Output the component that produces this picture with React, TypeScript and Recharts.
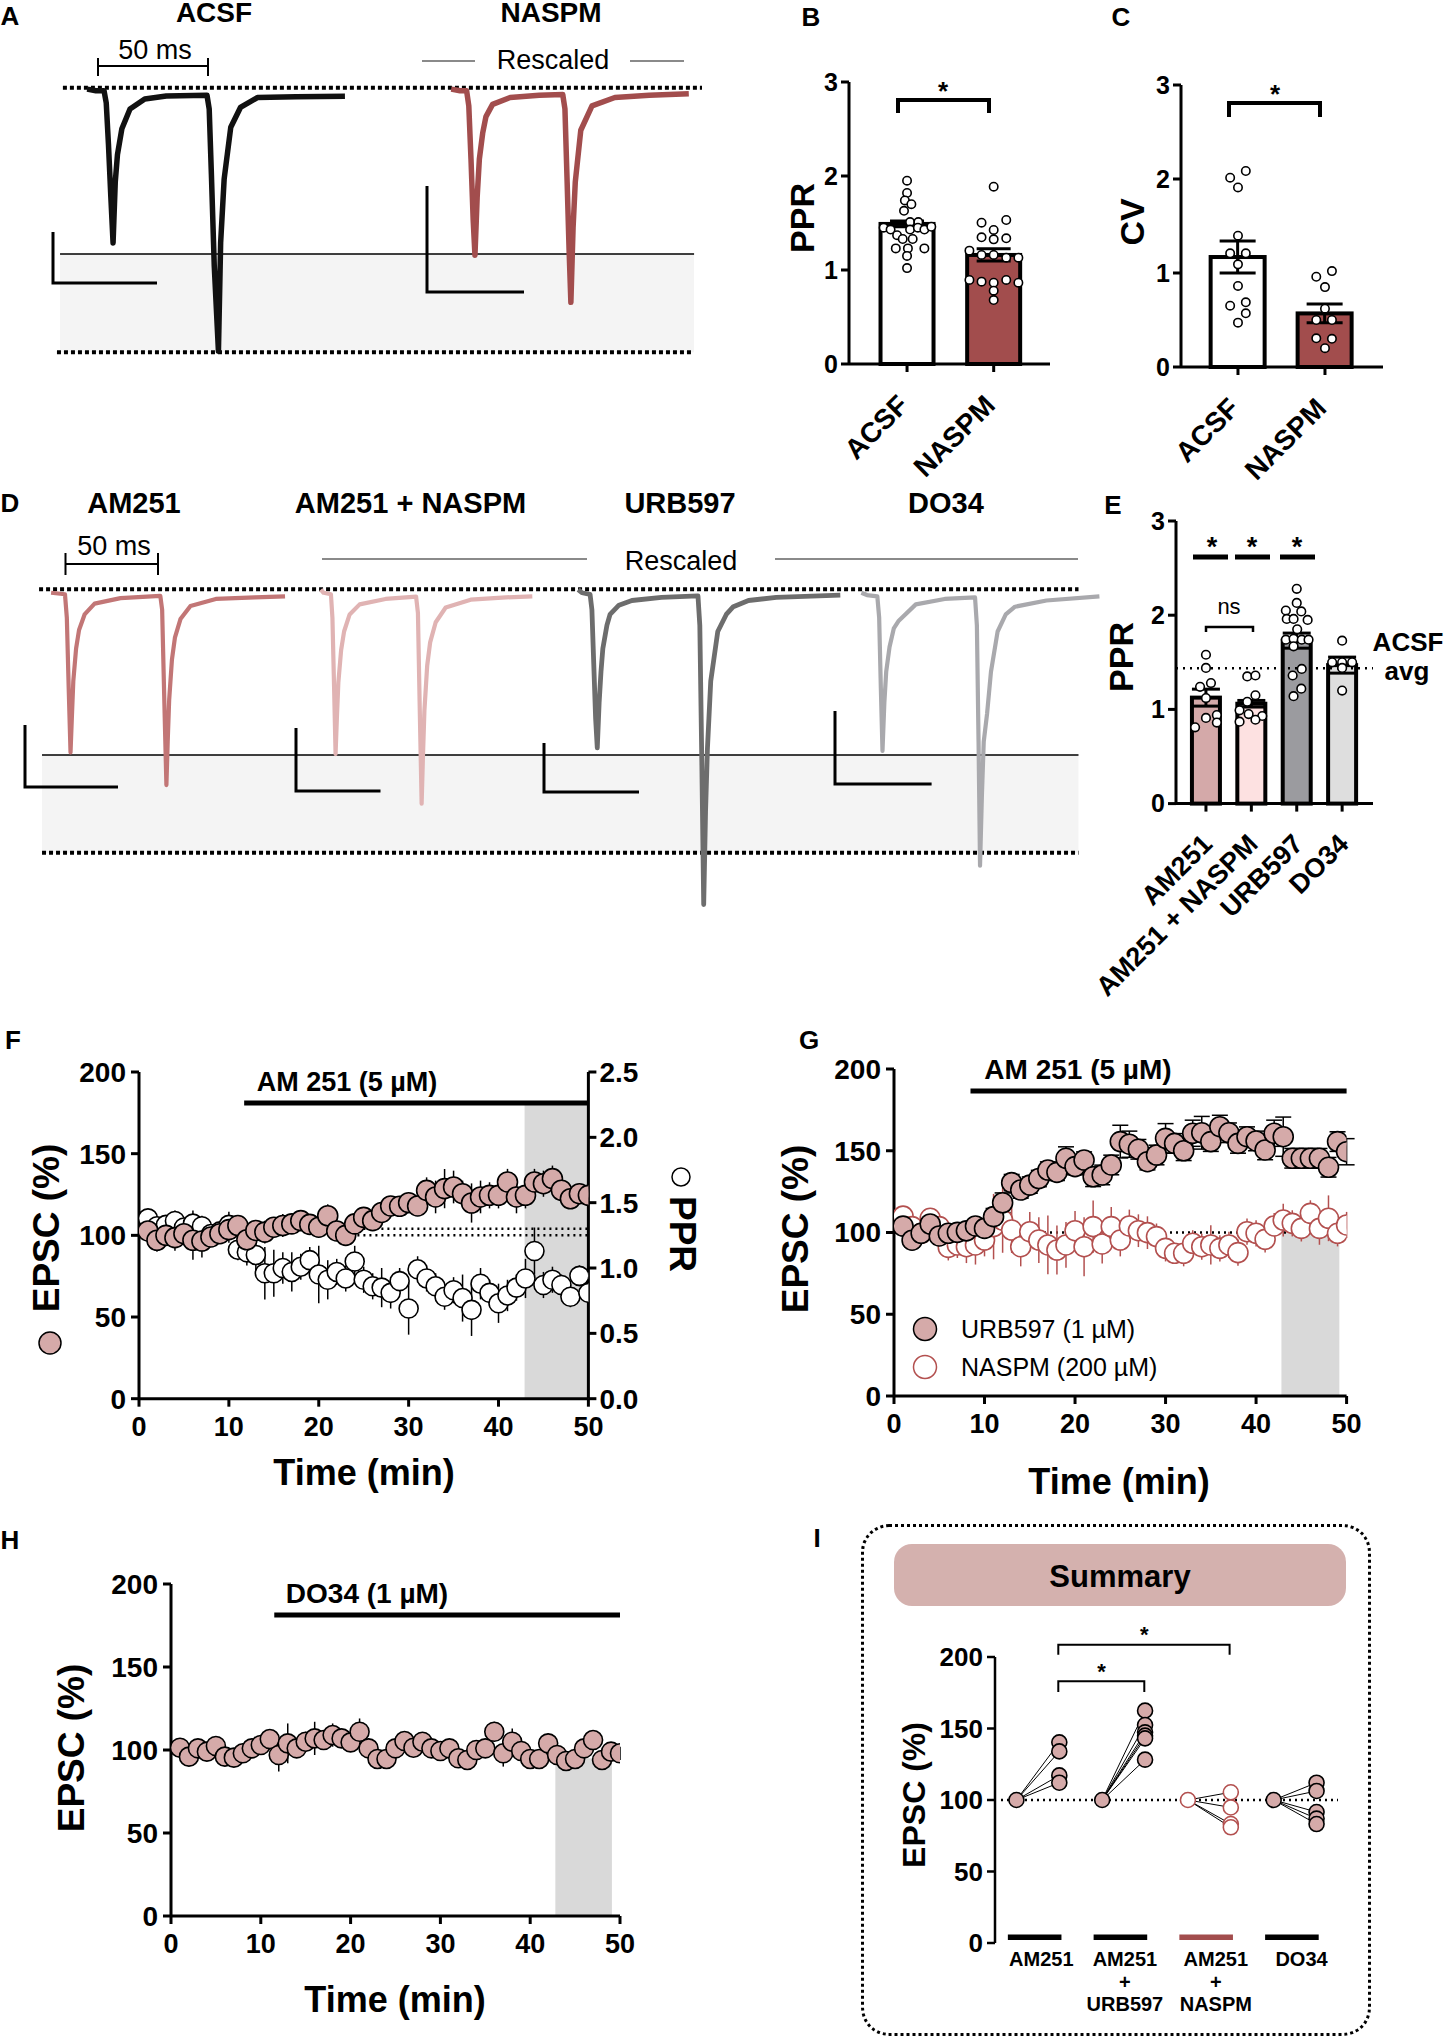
import React from 'react';
import {
  LineChart,
  Line,
  ComposedChart,
  Bar,
  Cell,
  ErrorBar,
  Scatter,
  XAxis,
  YAxis,
  ReferenceLine,
  ReferenceArea,
} from 'recharts';

const FONT = '"Liberation Sans", Arial, Helvetica, sans-serif';
const PINK = '#d5aaa9';
const NASPM_RED = '#a24d4d';
const OPEN_RED = '#b3504f';
const SHADE = '#d9d9d9';
const BAND = '#f4f4f4';

type Pt = [number, number];

// ---- A: example traces [ms from trace start, current / ACSF EPSC1] ----
const ACSF_TRACE: Pt[] = [
  [0, 0.01], [4, 0], [7.7, 0], [8.7, -0.08], [9.7, -0.35], [10.8, -0.7], [11.8, -1.0],
  [12.8, -0.6], [13.8, -0.42], [15.8, -0.25], [19.5, -0.12], [26.2, -0.055], [36, -0.035],
  [54.5, -0.03], [55.5, -0.12], [56.5, -0.55], [57.8, -1.15], [59.7, -1.71], [60.7, -1.0],
  [62.3, -0.58], [65.3, -0.24], [69.7, -0.11], [77.4, -0.045], [95, -0.04], [117.2, -0.037],
];
const NASPM_TRACE: Pt[] = [
  [0, 0.01], [4, 0], [7, 0], [8, -0.1], [9, -0.45], [10, -0.85], [10.8, -1.08], [11.8, -0.7],
  [12.8, -0.45], [14.3, -0.28], [15.8, -0.17], [18.8, -0.09], [26.8, -0.045], [40, -0.03],
  [50.7, -0.025], [51.7, -0.12], [52.7, -0.6], [53.6, -1.05], [54.4, -1.39], [55.4, -0.9],
  [56.4, -0.6], [58.9, -0.26], [64, -0.1], [74.4, -0.045], [90, -0.03], [108, -0.02],
];

// ---- D: example traces ----
const AM251_TRACE: Pt[] = [
  [0, 0.01], [7.5, 0], [8.5, -0.15], [9.5, -0.6], [10.5, -1.02], [11.2, -0.8], [12, -0.56],
  [13.5, -0.35], [15.1, -0.23], [18.1, -0.13], [23.5, -0.06], [37.5, -0.025], [59, -0.01],
  [60, -0.1], [61.2, -0.7], [62.3, -1.23], [63, -0.95], [63.8, -0.68], [65.3, -0.42],
  [66.9, -0.28], [69.9, -0.16], [75.3, -0.075], [89, -0.03], [110, -0.02], [126.4, -0.013],
];
const AM251_NASPM_TRACE: Pt[] = [
  [0, 0.03], [1.5, 0.01], [5.5, 0], [6.3, -0.15], [7.2, -0.6], [8, -1.03], [8.7, -0.8],
  [9.5, -0.57], [11, -0.36], [12.6, -0.24], [15.6, -0.13], [21, -0.065], [35, -0.03],
  [51.5, -0.015], [52.5, -0.12], [53.5, -0.75], [54.5, -1.35], [55.2, -1.05], [56, -0.75],
  [57.5, -0.46], [59.1, -0.31], [62.1, -0.18], [67.5, -0.085], [81, -0.035], [100, -0.02],
  [114.3, -0.013],
];
const URB597_TRACE: Pt[] = [
  [0, 0.03], [2, 0.01], [6.4, 0], [7.4, -0.1], [8.4, -0.45], [9.4, -0.8], [10.3, -0.99],
  [11.3, -0.7], [12.3, -0.5], [13.3, -0.35], [15.5, -0.2], [17.2, -0.13], [22, -0.07],
  [29, -0.04], [45, -0.02], [64.7, -0.01], [65.7, -0.2], [66.8, -1.1], [67.8, -2.0],
  [68.8, -1.4], [69.8, -1.0], [71.6, -0.56], [75.4, -0.24], [80, -0.13], [83.8, -0.08],
  [92, -0.04], [107, -0.02], [141.6, -0.005],
];
const DO34_TRACE: Pt[] = [
  [0, 0.01], [3, -0.005], [8.6, -0.013], [9.6, -0.15], [10.5, -0.6], [11.4, -1.01],
  [12.4, -0.7], [13.4, -0.5], [15.2, -0.34], [17.5, -0.22], [20.2, -0.17], [29.4, -0.065],
  [45, -0.03], [61.4, -0.02], [62.4, -0.2], [63.3, -0.95], [64.1, -1.75], [65.1, -1.3],
  [66.1, -0.95], [67.9, -0.77], [70, -0.5], [73.6, -0.24], [78, -0.13], [83, -0.08],
  [100, -0.04], [128.6, -0.013],
];

// ---- B: PPR ----
const B_NAMES = ['ACSF', 'NASPM'];
const B_MEAN = [1.49, 1.16];
const B_SEM = [0.03, 0.065];
const B_ACSF_PTS: Pt[] = [
  [0, 1.95], [0, 1.82], [-0.025, 1.74], [0.05, 1.7], [-0.035, 1.63], [0.035, 1.51], [0.13, 1.51],
  [-0.27, 1.45], [-0.19, 1.43], [-0.115, 1.37], [0.035, 1.43], [0.125, 1.45], [0.2, 1.43],
  [0.28, 1.46], [-0.05, 1.33], [0.065, 1.33], [-0.13, 1.23], [0.01, 1.23], [0.2, 1.23],
  [0, 1.15], [0, 1.02],
];
const B_NASPM_PTS: Pt[] = [
  [0, 1.886], [-0.14, 1.503], [0.145, 1.532], [0, 1.426], [-0.14, 1.348], [0, 1.326],
  [0.145, 1.337], [-0.28, 1.206], [-0.14, 1.16], [0, 1.16], [0.145, 1.131], [0.285, 1.131],
  [-0.28, 0.894], [-0.14, 0.876], [0, 0.865], [0.145, 0.894], [0.285, 0.865], [0, 0.78], [0, 0.68],
];

// ---- C: CV ----
const C_MEAN = [1.17, 0.57];
const C_SEM = [0.17, 0.1];
const C_ACSF_PTS: Pt[] = [
  [-0.09, 2.014], [0.09, 2.085], [0, 1.91], [0, 1.397], [-0.09, 1.209], [0.09, 1.209],
  [0, 1.092], [0, 0.862], [-0.09, 0.652], [0.09, 0.688], [0.09, 0.571], [0, 0.472],
];
const C_NASPM_PTS: Pt[] = [
  [-0.1, 0.96], [0.08, 1.02], [0, 0.85], [0, 0.62], [-0.1, 0.5], [0.08, 0.5],
  [-0.1, 0.305], [0.08, 0.3], [0, 0.2],
];

// ---- E: PPR per condition ----
const E_NAMES = ['AM251', 'AM251 + NASPM', 'URB597', 'DO34'];
const E_MEAN = [1.125, 1.06, 1.73, 1.47];
const E_SEM = [0.09, 0.035, 0.08, 0.085];
const E_FILL = ['#d4a9a9', '#fde1e1', '#9b9b9f', '#dedede'];
const E_ACSF_AVG = 1.436;
const E_AM251_PTS: Pt[] = [
  [0, 1.58], [0, 1.44], [-0.13, 1.24], [0.11, 1.28], [0, 1.12], [0.24, 0.94], [0, 0.91],
  [0.24, 0.86], [-0.24, 0.81],
];
const E_NASPM_PTS: Pt[] = [
  [-0.09, 1.35], [0.09, 1.36], [0.09, 1.15], [-0.09, 1.08], [-0.26, 0.99], [-0.06, 0.95],
  [0.24, 0.93], [-0.26, 0.87], [0.09, 0.89],
];
const E_URB_PTS: Pt[] = [
  [0, 2.28], [0, 2.13], [-0.24, 2.05], [0.1, 2.04], [-0.22, 1.96], [-0.07, 1.96], [0.24, 1.95],
  [0.01, 1.85], [-0.24, 1.74], [-0.07, 1.75], [0.11, 1.74], [0.26, 1.74], [-0.07, 1.67],
  [0.11, 1.43], [-0.09, 1.36], [0.1, 1.22], [-0.07, 1.14],
];
const E_DO34_PTS: Pt[] = [[0, 1.73], [-0.22, 1.5], [0, 1.5], [0.22, 1.5], [0, 1.44], [0, 1.2]];

// ---- F: AM251 time course (1 point / min) ----
const F_EPSC = [
  102.7, 97, 100, 98.6, 101, 97, 96.5, 99, 101, 103.5,
  106, 97.3, 103, 102, 105, 106, 107, 109, 106.7, 105,
  112, 102.7, 100, 107, 111, 109, 114, 118, 117.8, 120,
  118, 127.5, 123.5, 128.6, 129.6, 125.5, 119.8, 123.5, 124.5, 124.5,
  132.7, 123.5, 124.5, 132.7, 131.6, 134.7, 127.6, 122.4, 125.5, 124.5,
];
const F_EPSC_ERR = [
  6, 7, 6, 8, 7, 12, 10, 5, 5, 8, 6, 6, 6, 7, 6, 7, 6, 6, 6, 6,
  7, 6, 6, 6, 5, 5, 5, 5, 5, 5, 6, 8, 10, 12, 10, 8, 12, 10, 8, 8,
  8, 10, 8, 8, 8, 8, 6, 6, 6, 6,
];
const F_PPR = [
  1.38, 1.32, 1.33, 1.36, 1.31, 1.34, 1.32, 1.26, 1.28, 1.33,
  1.14, 1.12, 1.1, 0.96, 0.96, 1.0, 0.97, 1.01, 1.06, 0.95,
  0.91, 0.97, 0.92, 1.05, 0.91, 0.86, 0.85, 0.81, 0.9, 0.69,
  0.99, 0.92, 0.86, 0.78, 0.83, 0.77, 0.68, 0.88, 0.81, 0.73,
  0.79, 0.85, 0.92, 1.13, 0.87, 0.91, 0.87, 0.78, 0.94, 0.81,
];
const F_PPR_ERR = [
  0.05, 0.05, 0.06, 0.08, 0.05, 0.1, 0.08, 0.05, 0.05, 0.1,
  0.08, 0.1, 0.15, 0.2, 0.18, 0.12, 0.15, 0.1, 0.1, 0.22,
  0.15, 0.1, 0.1, 0.12, 0.1, 0.1, 0.15, 0.12, 0.1, 0.2,
  0.1, 0.1, 0.1, 0.1, 0.1, 0.18, 0.2, 0.12, 0.1, 0.15,
  0.12, 0.1, 0.15, 0.18, 0.1, 0.1, 0.08, 0.08, 0.08, 0.08,
];

// ---- G: URB597 / NASPM time course ----
const G_URB = [
  103.9, 95.3, 99.5, 105.2, 97.9, 99.5, 100.1, 101, 104, 102.5,
  109.7, 118.2, 130.5, 126, 129, 133, 138.2, 136.8, 145.4, 140.3,
  144.3, 134.1, 135.2, 141.3, 155.6, 154, 150.9, 143.3, 147.4, 157.6,
  154.5, 150, 160.7, 161, 155.6, 164.7, 161, 154.5, 158.6, 156,
  150.5, 160.7, 158.6, 145.4, 145.4, 145.4, 145.4, 139.9, 155.6, 149.4,
];
const G_URB_ERR = [
  3, 4, 3, 4, 3, 3, 3, 3, 3, 4, 5, 6, 5, 5, 5, 5, 5, 5, 7, 5,
  5, 6, 6, 6, 10, 8, 6, 5, 6, 9, 6, 6, 8, 10, 6, 7, 6, 6, 6, 6,
  6, 8, 12, 6, 6, 6, 6, 6, 6, 8,
];
const G_NASPM = [
  110, 103.6, 99.5, 108.7, 103.6, 90.9, 92.4, 91.3, 92.4, 95.4,
  103.6, 107.6, 101.5, 91.3, 100.5, 95.4, 92.4, 89.3, 92.4, 101.1,
  91.3, 103.6, 93, 103.6, 95.4, 104, 101.1, 99.9, 97.5, 90.3,
  87.3, 87.3, 93.4, 91.3, 92.4, 90.3, 92.4, 87.7, 100.5, 99.5,
  95.8, 104, 107.6, 105.6, 102.5, 111.7, 102.5, 108.7, 99.5, 104.6,
];
const G_NASPM_ERR = [
  5, 6, 6, 6, 6, 8, 8, 10, 12, 10, 20, 20, 14, 12, 12, 14, 18, 15, 14, 12,
  18, 16, 12, 12, 10, 10, 10, 10, 8, 8, 6, 8, 8, 8, 12, 8, 8, 8, 8, 8,
  8, 8, 10, 8, 8, 8, 10, 14, 8, 8,
];

// ---- H: DO34 time course ----
const H_DO34 = [
  101.4, 96, 101, 99, 102.4, 96, 95.4, 98, 101, 103,
  106.6, 97, 104, 101, 105, 107, 106, 109, 107, 104.6,
  111, 101, 94.6, 94.6, 101, 105.4, 101.4, 105, 101, 99.4,
  101, 95, 94, 100, 101, 111, 98, 105, 99.4, 94.6,
  94.6, 104, 97, 93.4, 94.6, 101, 106, 94, 99, 98,
];
const H_DO34_ERR = [
  4, 4, 3, 4, 4, 4, 4, 4, 5, 5, 6, 10, 12, 5, 6, 10, 6, 7, 5, 5,
  8, 6, 5, 5, 5, 5, 5, 5, 4, 4, 4, 4, 4, 5, 5, 6, 8, 8, 5, 5,
  5, 6, 5, 5, 5, 5, 6, 5, 5, 4,
];

// ---- I: summary, EPSC (%) after drug (baseline = 100) ----
const I_BASE = 100;
const I_AM251 = [140.3, 134, 117.2, 112.1];
const I_URB = [162.5, 152.4, 147.3, 145, 143.1, 128.2];
const I_NASPM = [105.4, 94.8, 83.2, 80.9];
const I_DO34 = [112.1, 106.3, 91.6, 87, 83.2];
const I_LABELS = [['AM251'], ['AM251', '+', 'URB597'], ['AM251', '+', 'NASPM'], ['DO34']];

const MINUTES = F_EPSC.map((_, i) => i + 1);

const AX = { stroke: '#000', strokeWidth: 3 };
const tickStyle = (size: number) => ({
  fill: '#000',
  fontSize: size,
  fontWeight: 700,
  fontFamily: FONT,
});

function Txt({ x, y, size, bold = true, rot = 0, align = 'center', color = '#000', children }: any) {
  const tx = align === 'center' ? '-50%' : align === 'right' ? '-100%' : '0%';
  return (
    <div
      style={{
        position: 'absolute',
        left: x,
        top: y,
        transform: `translate(${tx}, -50%) rotate(${rot}deg)`,
        fontFamily: FONT,
        fontSize: size,
        fontWeight: bold ? 700 : 400,
        color,
        whiteSpace: 'nowrap',
        lineHeight: 1,
      }}
    >
      {children}
    </div>
  );
}

const openDot = (r: number, stroke = '#000') => (p: any) => (
  <circle cx={p.cx} cy={p.cy} r={r} fill="#fff" stroke={stroke} strokeWidth={1.6} />
);
const pinkDot = (r: number) => (p: any) => (
  <circle cx={p.cx} cy={p.cy} r={r} fill={PINK} stroke="#000" strokeWidth={1.6} />
);

const shift = (pts: Pt[], t0: number) => pts.map(([t, v]) => ({ t: t + t0, v }));
const series = (vals: number[], errs: number[]) =>
  vals.map((v, i) => ({ t: MINUTES[i], v, e: errs[i] }));

function RotTick(props: any) {
  const { x, y, payload, names, size, dx, dy } = props;
  const label = names[Math.round(payload.value) - 1];
  const px = x + dx;
  const py = y + dy;
  return (
    <text
      x={px}
      y={py}
      transform={`rotate(-45 ${px} ${py})`}
      textAnchor="end"
      fontSize={size}
      fontWeight={700}
      fontFamily={FONT}
      fill="#000"
    >
      {label}
    </text>
  );
}

// bar + scatter panel; (axisX, topY) = position of the y axis and its top tick
function DotBar({ axisX, topY, plotW, plotH, xDomain, names, means, sems, fills, groups, barSize, capW, r, labelSize, ldx, ldy, ml = 0, children }: any) {
  const YW = 60;
  const MT = 24;
  const XH = 230;
  const rows = names.map((n: string, i: number) => ({ x: i + 1, mean: means[i], sem: sems[i] }));
  const dots = groups.flatMap((g: Pt[], i: number) => g.map(([dx, v]) => ({ x: i + 1 + dx, y: v })));
  return (
    <div style={{ position: 'absolute', left: axisX - YW - ml, top: topY - MT }}>
      <ComposedChart
        width={ml + YW + plotW + 10}
        height={MT + plotH + XH}
        data={rows}
        margin={{ top: MT, right: 10, bottom: 0, left: ml }}
      >
        <XAxis
          type="number"
          dataKey="x"
          domain={xDomain}
          allowDataOverflow
          ticks={rows.map((d: any) => d.x)}
          interval={0}
          axisLine={AX}
          tickLine={AX}
          tickSize={8}
          height={XH}
          tick={(p: any) => <RotTick {...p} names={names} size={labelSize} dx={ldx} dy={ldy} />}
        />
        <YAxis
          type="number"
          domain={[0, 3]}
          ticks={[0, 1, 2, 3]}
          interval={0}
          axisLine={AX}
          tickLine={AX}
          tickSize={8}
          tickMargin={3}
          width={YW}
          tick={tickStyle(25)}
        />
        {children}
        <Bar
          dataKey="mean"
          barSize={barSize}
          isAnimationActive={false}
          shape={(p: any) => (
            <rect
              x={p.x + p.width / 2 - barSize / 2}
              y={p.y}
              width={barSize}
              height={p.height}
              fill={p.fill}
              stroke="#000"
              strokeWidth={4}
            />
          )}
        >
          {rows.map((_: any, i: number) => (
            <Cell key={i} fill={fills[i]} />
          ))}
          <ErrorBar dataKey="sem" width={capW} stroke="#000" strokeWidth={3} direction="y" />
        </Bar>
        <Scatter data={dots} dataKey="y" isAnimationActive={false} shape={openDot(r)} />
      </ComposedChart>
    </div>
  );
}

function Overlay() {
  const k = { stroke: '#000', strokeWidth: 3, fill: 'none' };
  return (
    <svg width={1445} height={2040} style={{ position: 'absolute', left: 0, top: 0, pointerEvents: 'none' }}>
      {/* A */}
      <path d="M98 58 V76 M98 66 H208 M208 58 V76" stroke="#000" strokeWidth={2} fill="none" />
      <path d="M422 61 H475 M630 61 H684" stroke="#8a8a8a" strokeWidth={2} />
      <path d="M53 232 V283 H157" {...k} />
      <path d="M427 186 V292 H524" {...k} />
      {/* D */}
      <path d="M65.5 553 V575 M65.5 564 H158 M158 553 V575" stroke="#000" strokeWidth={2} fill="none" />
      <path d="M322 559 H587 M775 559 H1078" stroke="#8a8a8a" strokeWidth={2} />
      <path d="M25 725 V787 H118" {...k} />
      <path d="M296 728 V791 H380.5" {...k} />
      <path d="M544 743 V792 H639" {...k} />
      <path d="M835 711 V784 H931.6" {...k} />
      {/* B, C */}
      <path d="M898 113 V100 H989 V113" stroke="#000" strokeWidth={4} fill="none" />
      <path d="M1229 117 V103 H1320 V117" stroke="#000" strokeWidth={4} fill="none" />
      {/* E */}
      <path d="M1193 557 H1228 M1235 557 H1270 M1280 557 H1315" stroke="#000" strokeWidth={5} />
      <path d="M1206 632 V627 H1253 V632" stroke="#000" strokeWidth={2.5} fill="none" />
      {/* I */}
      <path d="M1058.3 1692 V1681.3 H1144.3 V1692" stroke="#000" strokeWidth={2} fill="none" />
      <path d="M1058.3 1654.7 V1644.7 H1229.6 V1654.7" stroke="#000" strokeWidth={2} fill="none" />
      {/* axis-title symbols and legend */}
      <circle cx={50} cy={1343} r={11} fill={PINK} stroke="#000" strokeWidth={1.5} />
      <circle cx={681} cy={1177} r={9} fill="#fff" stroke="#000" strokeWidth={1.5} />
      <circle cx={925} cy={1329} r={11.5} fill={PINK} stroke="#000" strokeWidth={1.5} />
      <circle cx={925} cy={1367} r={11.5} fill="#fff" stroke={OPEN_RED} strokeWidth={1.5} />
    </svg>
  );
}

export default function App() {
  const dotted = { stroke: '#000', strokeWidth: 4, strokeDasharray: '4 3' };
  const iX = [0, 2, 4, 6];
  const iGroups = [
    { post: I_AM251, open: false },
    { post: I_URB, open: false },
    { post: I_NASPM, open: true },
    { post: I_DO34, open: false },
  ];
  const iBarColor = ['#000', '#000', NASPM_RED, '#000'];

  return (
    <div style={{ position: 'absolute', left: 0, top: 0, width: 1445, height: 2040, background: '#fff', fontFamily: FONT }}>
      {/* ---------- A ---------- */}
      <div style={{ position: 'absolute', left: 42, top: 45.4 }}>
        <LineChart width={660} height={335} margin={{ top: 0, right: 0, bottom: 0, left: 0 }}>
          <XAxis type="number" dataKey="t" domain={[0, 300]} hide allowDataOverflow />
          <YAxis type="number" domain={[-1.9, 0.3]} hide allowDataOverflow />
          <ReferenceArea x1={8.2} x2={296.4} y1={-1.717} y2={-1.072} fill={BAND} fillOpacity={1} stroke="none" />
          <ReferenceLine segment={[{ x: 8.2, y: -1.072 }, { x: 296.4, y: -1.072 }]} stroke="#000" strokeWidth={1.5} />
          <ReferenceLine segment={[{ x: 9.5, y: 0.02 }, { x: 300, y: 0.02 }]} {...dotted} />
          <ReferenceLine segment={[{ x: 6.8, y: -1.717 }, { x: 295, y: -1.717 }]} {...dotted} />
          <Line data={shift(ACSF_TRACE, 20.5)} dataKey="v" type="linear" stroke="#111" strokeWidth={5.5} strokeLinejoin="round" dot={false} isAnimationActive={false} />
          <Line data={shift(NASPM_TRACE, 186)} dataKey="v" type="linear" stroke={NASPM_RED} strokeWidth={5.5} strokeLinejoin="round" dot={false} isAnimationActive={false} />
        </LineChart>
      </div>

      {/* ---------- D ---------- */}
      <div style={{ position: 'absolute', left: 20, top: 540 }}>
        <LineChart width={1092} height={380} margin={{ top: 0, right: 0, bottom: 0, left: 0 }}>
          <XAxis type="number" dataKey="t" domain={[0, 590]} hide allowDataOverflow />
          <YAxis type="number" domain={[-2.1, 0.35]} hide allowDataOverflow />
          <ReferenceArea x1={11.9} x2={571.9} y1={-1.666} y2={-1.036} fill={BAND} fillOpacity={1} stroke="none" />
          <ReferenceLine segment={[{ x: 11.9, y: -1.036 }, { x: 571.9, y: -1.036 }]} stroke="#000" strokeWidth={1.5} />
          <ReferenceLine segment={[{ x: 10.3, y: 0.032 }, { x: 571.9, y: 0.032 }]} {...dotted} />
          <ReferenceLine segment={[{ x: 11.9, y: -1.666 }, { x: 571.9, y: -1.666 }]} {...dotted} />
          <Line data={shift(AM251_TRACE, 16.8)} dataKey="v" type="linear" stroke="#c27676" strokeWidth={4.2} strokeLinejoin="round" dot={false} isAnimationActive={false} />
          <Line data={shift(AM251_NASPM_TRACE, 162.5)} dataKey="v" type="linear" stroke="#e0b3b3" strokeWidth={4.2} strokeLinejoin="round" dot={false} isAnimationActive={false} />
          <Line data={shift(URB597_TRACE, 301.6)} dataKey="v" type="linear" stroke="#6d6d6d" strokeWidth={4.8} strokeLinejoin="round" dot={false} isAnimationActive={false} />
          <Line data={shift(DO34_TRACE, 454.6)} dataKey="v" type="linear" stroke="#a9a9ad" strokeWidth={4.2} strokeLinejoin="round" dot={false} isAnimationActive={false} />
        </LineChart>
      </div>

      {/* ---------- B ---------- */}
      <DotBar
        axisX={849} topY={82} plotW={201} plotH={282} xDomain={[0.33, 2.65]}
        names={B_NAMES} means={B_MEAN} sems={B_SEM} fills={['#fff', NASPM_RED]}
        groups={[B_ACSF_PTS, B_NASPM_PTS]} barSize={53} capW={17} r={4.2}
        labelSize={28} ldx={3} ldy={33}
      />
      {/* ---------- C ---------- */}
      <DotBar
        axisX={1181} topY={85} plotW={202} plotH={282} xDomain={[0.345, 2.667]}
        names={B_NAMES} means={C_MEAN} sems={C_SEM} fills={['#fff', NASPM_RED]}
        groups={[C_ACSF_PTS, C_NASPM_PTS]} barSize={54} capW={18} r={4.2}
        labelSize={28} ldx={3} ldy={33}
      />
      {/* ---------- E ---------- */}
      <DotBar
        axisX={1176} topY={520.7} plotW={197} plotH={282.6} xDomain={[0.34, 4.68]}
        names={E_NAMES} means={E_MEAN} sems={E_SEM} fills={E_FILL}
        groups={[E_AM251_PTS, E_NASPM_PTS, E_URB_PTS, E_DO34_PTS]} barSize={28} capW={14} r={4.3}
        labelSize={27} ldx={8} ldy={32} ml={80}
      >
        <ReferenceLine y={E_ACSF_AVG} stroke="#000" strokeWidth={2.5} strokeDasharray="2 5" />
      </DotBar>

      {/* ---------- F ---------- */}
      <div style={{ position: 'absolute', left: 59.3, top: 1052 }}>
        <ComposedChart width={619.4} height={396.7} margin={{ top: 20, right: 0, bottom: 0, left: 0 }}>
          <XAxis type="number" dataKey="t" domain={[0, 50]} ticks={[0, 10, 20, 30, 40, 50]} interval={0} allowDataOverflow axisLine={AX} tickLine={AX} tickSize={8} tickMargin={10} height={50} tick={tickStyle(27)} />
          <YAxis yAxisId="l" type="number" domain={[0, 200]} ticks={[0, 50, 100, 150, 200]} interval={0} axisLine={AX} tickLine={AX} tickSize={8} tickMargin={5} width={80} tick={tickStyle(28)} />
          <YAxis yAxisId="r" orientation="right" type="number" domain={[0, 2.5]} ticks={[0, 0.5, 1, 1.5, 2, 2.5]} interval={0} tickFormatter={(v: number) => v.toFixed(1)} axisLine={AX} tickLine={AX} tickSize={8} tickMargin={3} width={90} tick={tickStyle(28)} />
          <ReferenceArea yAxisId="l" x1={42.9} x2={50} y1={0} y2={181} fill={SHADE} fillOpacity={1} stroke="none" />
          <ReferenceLine yAxisId="l" segment={[{ x: 11.7, y: 181 }, { x: 50, y: 181 }]} stroke="#000" strokeWidth={5} />
          <ReferenceLine yAxisId="l" segment={[{ x: 24.3, y: 100 }, { x: 50, y: 100 }]} stroke="#000" strokeWidth={2.5} strokeDasharray="2 4" />
          <ReferenceLine yAxisId="r" segment={[{ x: 24.3, y: 1.3 }, { x: 50, y: 1.3 }]} stroke="#000" strokeWidth={2.5} strokeDasharray="2 4" />
          <Scatter yAxisId="r" data={series(F_PPR, F_PPR_ERR)} dataKey="v" isAnimationActive={false} shape={openDot(9.5)}>
            <ErrorBar dataKey="e" direction="y" width={0} stroke="#000" strokeWidth={1.5} />
          </Scatter>
          <Scatter yAxisId="l" data={series(F_EPSC, F_EPSC_ERR)} dataKey="v" isAnimationActive={false} shape={pinkDot(10)}>
            <ErrorBar dataKey="e" direction="y" width={0} stroke="#000" strokeWidth={1.5} />
          </Scatter>
        </ComposedChart>
      </div>

      {/* ---------- G ---------- */}
      <div style={{ position: 'absolute', left: 803.7, top: 1049.3 }}>
        <ComposedChart width={562.6} height={397} margin={{ top: 20, right: 20, bottom: 0, left: 0 }}>
          <XAxis type="number" dataKey="t" domain={[0, 50]} ticks={[0, 10, 20, 30, 40, 50]} interval={0} allowDataOverflow axisLine={AX} tickLine={AX} tickSize={8} tickMargin={10} height={50} tick={tickStyle(27)} />
          <YAxis type="number" domain={[0, 200]} ticks={[0, 50, 100, 150, 200]} interval={0} axisLine={AX} tickLine={AX} tickSize={8} tickMargin={5} width={90} tick={tickStyle(28)} />
          <ReferenceArea x1={42.8} x2={49.2} y1={0} y2={100} fill={SHADE} fillOpacity={1} stroke="none" />
          <ReferenceLine segment={[{ x: 8.45, y: 186.5 }, { x: 50, y: 186.5 }]} stroke="#000" strokeWidth={5} />
          <ReferenceLine segment={[{ x: 0, y: 100 }, { x: 50, y: 100 }]} stroke="#000" strokeWidth={2.5} strokeDasharray="2 4" />
          <Scatter data={series(G_NASPM, G_NASPM_ERR)} dataKey="v" isAnimationActive={false} shape={openDot(10, OPEN_RED)}>
            <ErrorBar dataKey="e" direction="y" width={0} stroke={OPEN_RED} strokeWidth={1.5} />
          </Scatter>
          <Scatter data={series(G_URB, G_URB_ERR)} dataKey="v" isAnimationActive={false} shape={pinkDot(10)}>
            <ErrorBar dataKey="e" direction="y" width={8} stroke="#000" strokeWidth={1.5} />
          </Scatter>
        </ComposedChart>
      </div>

      {/* ---------- H ---------- */}
      <div style={{ position: 'absolute', left: 80.8, top: 1564.3 }}>
        <ComposedChart width={559} height={402} margin={{ top: 20, right: 20, bottom: 0, left: 0 }}>
          <XAxis type="number" dataKey="t" domain={[0, 50]} ticks={[0, 10, 20, 30, 40, 50]} interval={0} allowDataOverflow axisLine={AX} tickLine={AX} tickSize={8} tickMargin={10} height={50} tick={tickStyle(27)} />
          <YAxis type="number" domain={[0, 200]} ticks={[0, 50, 100, 150, 200]} interval={0} axisLine={AX} tickLine={AX} tickSize={8} tickMargin={5} width={90} tick={tickStyle(28)} />
          <ReferenceArea x1={42.8} x2={49.1} y1={0} y2={95} fill={SHADE} fillOpacity={1} stroke="none" />
          <ReferenceLine segment={[{ x: 11.5, y: 181.3 }, { x: 50, y: 181.3 }]} stroke="#000" strokeWidth={5} />
          <Scatter data={series(H_DO34, H_DO34_ERR)} dataKey="v" isAnimationActive={false} shape={pinkDot(9.5)}>
            <ErrorBar dataKey="e" direction="y" width={0} stroke="#000" strokeWidth={1.5} />
          </Scatter>
        </ComposedChart>
      </div>

      {/* ---------- I ---------- */}
      <div style={{ position: 'absolute', left: 861, top: 1524, width: 504, height: 506, border: '3px dotted #000', borderRadius: 28 }} />
      <div style={{ position: 'absolute', left: 894, top: 1544, width: 452, height: 62, background: '#d4b1ae', borderRadius: 18 }} />
      <div style={{ position: 'absolute', left: 914.7, top: 1637 }}>
        <ComposedChart width={433} height={391} margin={{ top: 20, right: 10, bottom: 0, left: 0 }}>
          <XAxis
            type="number"
            dataKey="x"
            domain={[-0.5, 7.5]}
            allowDataOverflow
            ticks={[0.58, 2.53, 4.65, 6.65]}
            interval={0}
            axisLine={false}
            tickLine={false}
            tickSize={0}
            tickMargin={0}
            height={85}
            tick={(p: any) => (
              <g>
                {(I_LABELS[p.index] || []).map((s, j) => (
                  <text key={j} x={p.x} y={p.y + 16 + j * 22.5} dy="0.35em" textAnchor="middle" fontSize={20} fontWeight={700} fontFamily={FONT} fill="#000">
                    {s}
                  </text>
                ))}
              </g>
            )}
          />
          <YAxis type="number" domain={[0, 200]} ticks={[0, 50, 100, 150, 200]} interval={0} axisLine={{ stroke: '#000', strokeWidth: 2.5 }} tickLine={{ stroke: '#000', strokeWidth: 2.5 }} tickSize={8} tickMargin={4} width={80} tick={tickStyle(26)} />
          <ReferenceLine segment={[{ x: -0.36, y: 100 }, { x: 7.5, y: 100 }]} stroke="#000" strokeWidth={2.5} strokeDasharray="2 4" />
          {iX.map((x0, g) => (
            <ReferenceLine key={'bar' + g} segment={[{ x: x0 - 0.2, y: 4 }, { x: x0 + 1.05, y: 4 }]} stroke={iBarColor[g]} strokeWidth={5.5} />
          ))}
          {iGroups.flatMap((grp, g) =>
            grp.post.map((v, j) => (
              <Line
                key={`l${g}-${j}`}
                data={[{ x: iX[g], y: I_BASE }, { x: iX[g] + 1, y: v }]}
                dataKey="y"
                type="linear"
                stroke="#000"
                strokeWidth={1}
                dot={false}
                isAnimationActive={false}
              />
            )),
          )}
          {iGroups.map((grp, g) => (
            <Scatter
              key={'s' + g}
              data={[{ x: iX[g], y: I_BASE }, ...grp.post.map((v) => ({ x: iX[g] + 1, y: v }))]}
              dataKey="y"
              isAnimationActive={false}
              shape={grp.open ? openDot(7.5, OPEN_RED) : pinkDot(7.5)}
            />
          ))}
        </ComposedChart>
      </div>

      <Overlay />

      {/* ---------- texts ---------- */}
      <Txt x={10} y={16} size={26}>A</Txt>
      <Txt x={811} y={17} size={26}>B</Txt>
      <Txt x={1121} y={17} size={26}>C</Txt>
      <Txt x={10} y={503} size={26}>D</Txt>
      <Txt x={1113} y={505} size={26}>E</Txt>
      <Txt x={13} y={1040} size={26}>F</Txt>
      <Txt x={809} y={1040} size={26}>G</Txt>
      <Txt x={10} y={1540} size={26}>H</Txt>
      <Txt x={817} y={1538} size={26}>I</Txt>

      <Txt x={214} y={13} size={28}>ACSF</Txt>
      <Txt x={551} y={13} size={28}>NASPM</Txt>
      <Txt x={155} y={50} size={27} bold={false}>50 ms</Txt>
      <Txt x={553} y={60} size={27} bold={false}>Rescaled</Txt>

      <Txt x={134} y={503} size={29}>AM251</Txt>
      <Txt x={410.5} y={503} size={29}>AM251 + NASPM</Txt>
      <Txt x={680} y={503} size={29}>URB597</Txt>
      <Txt x={946} y={503} size={29}>DO34</Txt>
      <Txt x={114} y={546} size={27} bold={false}>50 ms</Txt>
      <Txt x={681} y={561} size={27} bold={false}>Rescaled</Txt>

      <Txt x={802} y={218} size={34} rot={-90}>PPR</Txt>
      <Txt x={943} y={91} size={26}>*</Txt>
      <Txt x={1132} y={222} size={34} rot={-90}>CV</Txt>
      <Txt x={1275} y={94} size={26}>*</Txt>

      <Txt x={1121} y={657} size={34} rot={-90}>PPR</Txt>
      <Txt x={1212} y={547} size={27}>*</Txt>
      <Txt x={1252} y={547} size={27}>*</Txt>
      <Txt x={1297} y={547} size={27}>*</Txt>
      <Txt x={1229} y={607} size={22} bold={false}>ns</Txt>
      <Txt x={1408} y={642} size={26}>ACSF</Txt>
      <Txt x={1407} y={671} size={26}>avg</Txt>

      <Txt x={46} y={1228} size={37} rot={-90}>EPSC (%)</Txt>
      <Txt x={682} y={1234} size={37} rot={90}>PPR</Txt>
      <Txt x={347} y={1082} size={27}>AM 251 (5 µM)</Txt>
      <Txt x={364} y={1473} size={36}>Time (min)</Txt>

      <Txt x={795} y={1229} size={37} rot={-90}>EPSC (%)</Txt>
      <Txt x={1078} y={1070} size={28}>AM 251 (5 µM)</Txt>
      <Txt x={1119} y={1482} size={36}>Time (min)</Txt>
      <Txt x={961} y={1329} size={25} bold={false} align="left">URB597 (1 µM)</Txt>
      <Txt x={961} y={1367} size={25} bold={false} align="left">NASPM (200 µM)</Txt>

      <Txt x={71} y={1748} size={37} rot={-90}>EPSC (%)</Txt>
      <Txt x={367} y={1594} size={28}>DO34 (1 µM)</Txt>
      <Txt x={395} y={2000} size={36}>Time (min)</Txt>

      <Txt x={1120} y={1576} size={31}>Summary</Txt>
      <Txt x={914} y={1795} size={32} rot={-90}>EPSC (%)</Txt>
      <Txt x={1101.5} y={1672} size={22}>*</Txt>
      <Txt x={1144.3} y={1635} size={22}>*</Txt>
    </div>
  );
}
